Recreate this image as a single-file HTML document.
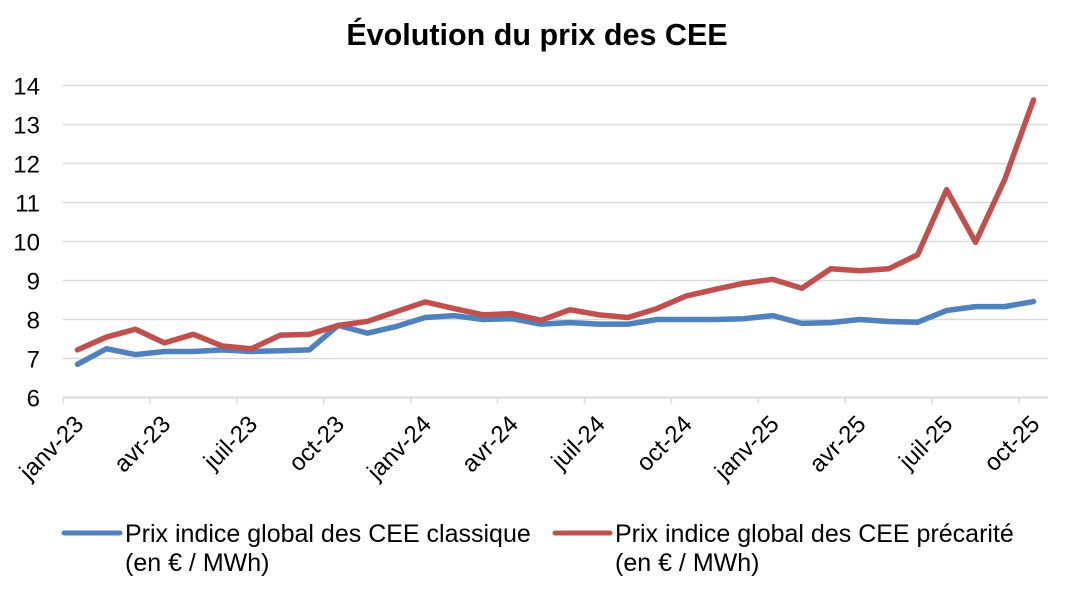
<!DOCTYPE html>
<html><head><meta charset="utf-8">
<style>
html,body{margin:0;padding:0;background:#fff;width:1067px;height:596px;overflow:hidden;font-family:"Liberation Sans",Arial,sans-serif;}
</style></head>
<body>
<svg id="chart" width="1067" height="596" xmlns="http://www.w3.org/2000/svg" font-family="Liberation Sans, Arial, sans-serif">
<text x="537" y="45" text-anchor="middle" font-size="30.5" font-weight="bold" fill="#000">Évolution du prix des CEE</text>
<g id="grid"></g><g id="yticks"></g><g id="xticks"></g><g id="series"></g>
<g>
<g>
<line x1="64" y1="533" x2="120" y2="533" stroke="#4f81bd" stroke-width="5" stroke-linecap="round"/>
<text x="125" y="542" font-size="25" fill="#000">Prix indice global des CEE classique</text>
<text x="125" y="571" font-size="25" fill="#000">(en € / MWh)</text>
</g>
<g>
<line x1="555" y1="533" x2="610" y2="533" stroke="#c0504d" stroke-width="5" stroke-linecap="round"/>
<text x="615" y="542" font-size="25" fill="#000">Prix indice global des CEE précarité</text>
<text x="615" y="571" font-size="25" fill="#000">(en € / MWh)</text>
</g>
</g>
</svg>
<script>
const months = ["janv-23","févr-23","mars-23","avr-23","mai-23","juin-23","juil-23","août-23","sept-23","oct-23","nov-23","déc-23","janv-24","févr-24","mars-24","avr-24","mai-24","juin-24","juil-24","août-24","sept-24","oct-24","nov-24","déc-24","janv-25","févr-25","mars-25","avr-25","mai-25","juin-25","juil-25","août-25","sept-25","oct-25"];
const classique = [6.85,7.25,7.1,7.18,7.18,7.22,7.18,7.2,7.22,7.85,7.65,7.82,8.05,8.1,8.0,8.02,7.88,7.92,7.88,7.88,8.0,8.0,8.0,8.02,8.1,7.9,7.92,8.0,7.95,7.93,8.23,8.33,8.33,8.46];
const precarite = [7.22,7.55,7.75,7.4,7.62,7.32,7.25,7.6,7.62,7.85,7.95,8.2,8.45,8.28,8.12,8.15,7.98,8.25,8.12,8.05,8.28,8.6,8.77,8.93,9.03,8.8,9.3,9.25,9.3,9.66,11.33,9.98,11.58,13.63];
const yTicks = [6,7,8,9,10,11,12,13,14];
const xLabelIdx = [0,3,6,9,12,15,18,21,24,27,30,33];

const NS="http://www.w3.org/2000/svg";
const x0=63, x1=1048, yBase=397.5, pxPerUnit=39;
const step=(x1-x0)/months.length;
const X=i=>x0+(i+0.5)*step;
const tickX=i=>x0+i*step;
const Y=v=>yBase-(v-6)*pxPerUnit;
function mk(tag,attrs,parent){const e=document.createElementNS(NS,tag);for(const k in attrs)e.setAttribute(k,attrs[k]);parent.appendChild(e);return e;}
const grid=document.getElementById('grid'),yt=document.getElementById('yticks'),xt=document.getElementById('xticks'),ser=document.getElementById('series');
yTicks.forEach(v=>{
  const l=mk('line',{x1:x0,x2:x1,y1:Y(v),y2:Y(v),stroke:'#d9d9d9','stroke-width':v===6?2:1.5},grid);
  
  
  const t=mk('text',{x:40,y:Y(v)+9,'text-anchor':'end','font-size':24,fill:'#000'},yt);
  t.textContent=v;
  
  
});
xLabelIdx.forEach(i=>{
  const tx=tickX(i);
  const tk=mk('line',{x1:tx,x2:tx,y1:yBase,y2:yBase+6,stroke:'#d9d9d9','stroke-width':1.5},xt);
  
  
  const t=mk('text',{x:0,y:0,'text-anchor':'end','font-size':24,fill:'#000',transform:`translate(${tx+22},${yBase+28}) rotate(-45)`},xt);
  t.textContent=months[i];
  
  
});
[[classique,'#4f81bd','line-classique'],[precarite,'#c0504d','line-precarite']].forEach(([d,c,n])=>{
  const p=mk('polyline',{points:d.map((v,i)=>X(i)+','+Y(v)).join(' '),fill:'none',stroke:c,'stroke-width':5.5,'stroke-linejoin':'round','stroke-linecap':'round'},ser);
  
  
});
</script>
</body></html>
